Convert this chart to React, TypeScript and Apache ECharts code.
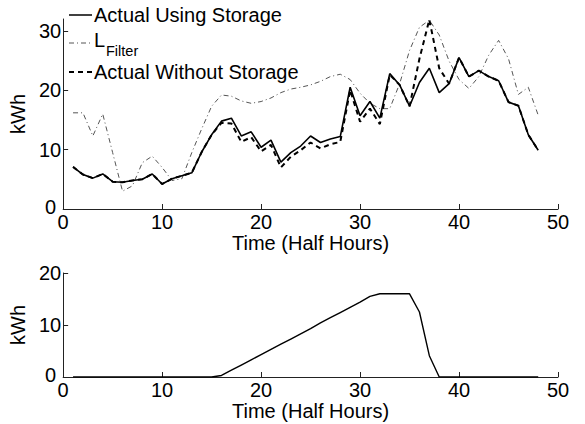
import React, { useEffect, useRef } from "react";
import * as echarts from "echarts";

const halfHours = [1,2,3,4,5,6,7,8,9,10,11,12,13,14,15,16,17,18,19,20,21,22,23,24,25,26,27,28,29,30,31,32,33,34,35,36,37,38,39,40,41,42,43,44,45,46,47,48];

const actualUsingStorage = [7.1,5.8,5.2,5.9,4.6,4.5,4.8,5.0,5.9,4.2,5.1,5.6,6.1,9.6,12.5,14.8,15.3,12.3,13.0,10.4,11.6,7.9,9.5,10.6,12.3,11.2,11.8,12.2,20.5,15.7,18.1,15.3,22.8,20.9,17.3,21.3,23.7,19.6,21.1,25.5,22.3,23.3,22.3,21.6,18.0,17.4,12.5,9.9];

const actualWithoutStorage = [7.1,5.8,5.2,5.9,4.6,4.5,4.8,5.0,5.9,4.2,5.1,5.6,6.1,9.6,12.5,14.5,14.4,11.3,12.1,9.7,10.8,7.0,8.8,9.9,11.2,10.2,10.9,11.3,20.0,14.7,16.9,14.3,22.6,20.9,17.3,25.3,31.9,23.7,21.1,25.5,22.3,23.3,22.3,21.6,18.0,17.4,12.5,9.9];

const lFilter = [16.2,16.2,12.3,16.0,9.5,3.0,3.9,7.8,8.9,7.0,4.8,5.1,9.5,13.5,17.3,19.2,19.0,18.2,17.8,18.1,18.7,19.6,20.2,20.5,20.9,21.5,22.3,22.7,21.8,19.5,17.8,16.9,16.9,21.1,26.7,30.6,31.8,29.3,24.9,21.8,20.3,22.3,25.9,28.4,25.3,19.3,20.5,15.8];

const storage = [0,0,0,0,0,0,0,0,0,0,0,0,0,0,0,0.3,1.3,2.3,3.3,4.3,5.3,6.3,7.3,8.3,9.3,10.4,11.4,12.4,13.4,14.4,15.5,16,16,16,16,12.5,4.1,0,0,0,0,0,0,0,0,0,0,0];

const xTicks = [0, 10, 20, 30, 40, 50];
const yTicksTop = [0, 10, 20, 30];
const yTicksBottom = [0, 10, 20];

const legendLabels = ["Actual Using Storage", "L", "Filter", "Actual Without Storage"];
const xTitle = "Time (Half Hours)";
const yTitle = "kWh";

const FONT = "'Liberation Sans', Arial, Helvetica, sans-serif";

const pairs = (ys: number[]) => ys.map((y, i) => [halfHours[i], y]);

function makeXAxis(gridIndex: number) {
  return {
    gridIndex,
    type: "value",
    min: 0,
    max: 50,
    interval: 10,
    axisLine: { show: true, onZero: false, lineStyle: { color: "#222", width: 1 } },
    axisTick: { show: true, inside: true, length: 5, lineStyle: { color: "#222" } },
    splitLine: { show: false },
    axisLabel: {
      customValues: xTicks,
      color: "#000",
      fontSize: 20,
      lineHeight: 12,
      fontFamily: FONT,
      margin: 7,
    },
    name: xTitle,
    nameLocation: "middle",
    nameGap: 22,
    nameTextStyle: { color: "#000", fontSize: 20, fontFamily: FONT },
  };
}

function makeYAxis(gridIndex: number, max: number, ticks: number[]) {
  return {
    gridIndex,
    type: "value",
    min: 0,
    max,
    interval: 10,
    axisLine: { show: true, onZero: false, lineStyle: { color: "#222", width: 1 } },
    axisTick: { show: true, inside: true, length: 5, customValues: ticks, lineStyle: { color: "#222" } },
    splitLine: { show: false },
    axisLabel: {
      customValues: ticks,
      color: "#000",
      fontSize: 20,
      lineHeight: 12,
      fontFamily: FONT,
      margin: 2,
      formatter: (v: number) => (v === 0 ? "{z|0}" : String(v)),
      rich: {
        z: { fontSize: 20, lineHeight: 12, fontFamily: FONT, color: "#000", padding: [0, 5, 4, 0] },
      },
    },
    name: yTitle,
    nameLocation: "middle",
    nameGap: 24,
    nameTextStyle: { color: "#000", fontSize: 20, fontFamily: FONT },
  };
}

export default function App() {
  const ref = useRef<HTMLDivElement>(null);

  useEffect(() => {
    if (!ref.current) return;
    const chart = echarts.init(ref.current, null, { renderer: "svg" });
    const legendX1 = 69;
    const legendX2 = 92;
    const textX = 94;
    chart.setOption({
      animation: false,
      backgroundColor: "#fff",
      grid: [
        { left: 62, right: 27, top: 19, height: 190 },
        { left: 62, right: 27, top: 273, height: 104 },
      ],
      xAxis: [makeXAxis(0), makeXAxis(1)],
      yAxis: [makeYAxis(0, 32, yTicksTop), makeYAxis(1, 20, yTicksBottom)],
      series: [
        {
          name: "LFilter",
          type: "line",
          xAxisIndex: 0,
          yAxisIndex: 0,
          data: pairs(lFilter),
          symbol: "none",
          lineStyle: { color: "#555", width: 1, type: [5, 3, 1, 3] },
        },
        {
          name: "Actual Without Storage",
          type: "line",
          xAxisIndex: 0,
          yAxisIndex: 0,
          data: pairs(actualWithoutStorage),
          symbol: "none",
          lineStyle: { color: "#000", width: 2, type: [5, 4] },
        },
        {
          name: "Actual Using Storage",
          type: "line",
          xAxisIndex: 0,
          yAxisIndex: 0,
          data: pairs(actualUsingStorage),
          symbol: "none",
          lineStyle: { color: "#000", width: 1.6 },
        },
        {
          name: "Storage",
          type: "line",
          xAxisIndex: 1,
          yAxisIndex: 1,
          data: pairs(storage),
          symbol: "none",
          lineStyle: { color: "#000", width: 1.4 },
        },
      ],
      graphic: [
        {
          type: "line",
          shape: { x1: legendX1, y1: 15, x2: legendX2, y2: 15 },
          style: { stroke: "#000", lineWidth: 1.5 },
        },
        {
          type: "text",
          x: textX,
          y: 15,
          style: { text: legendLabels[0], fontSize: 20, fontFamily: FONT, fill: "#000", verticalAlign: "middle" },
        },
        {
          type: "line",
          shape: { x1: legendX1, y1: 43, x2: legendX2, y2: 43 },
          style: { stroke: "#555", lineWidth: 1, lineDash: [5, 3, 1, 3] },
        },
        {
          type: "text",
          x: textX,
          y: 40,
          style: { text: legendLabels[1], fontSize: 20, fontFamily: FONT, fill: "#000", verticalAlign: "middle" },
        },
        {
          type: "text",
          x: 106,
          y: 51,
          style: { text: legendLabels[2], fontSize: 14.5, fontFamily: FONT, fill: "#000", verticalAlign: "middle" },
        },
        {
          type: "line",
          shape: { x1: legendX1, y1: 72, x2: legendX2, y2: 72 },
          style: { stroke: "#000", lineWidth: 2, lineDash: [5, 4] },
        },
        {
          type: "text",
          x: textX,
          y: 72,
          style: { text: legendLabels[3], fontSize: 20, fontFamily: FONT, fill: "#000", verticalAlign: "middle" },
        },
      ],
    });
    return () => chart.dispose();
  }, []);

  return (
    <div
      ref={ref}
      style={{ position: "fixed", left: 0, top: 0, width: 585, height: 424, background: "#fff" }}
    />
  );
}
